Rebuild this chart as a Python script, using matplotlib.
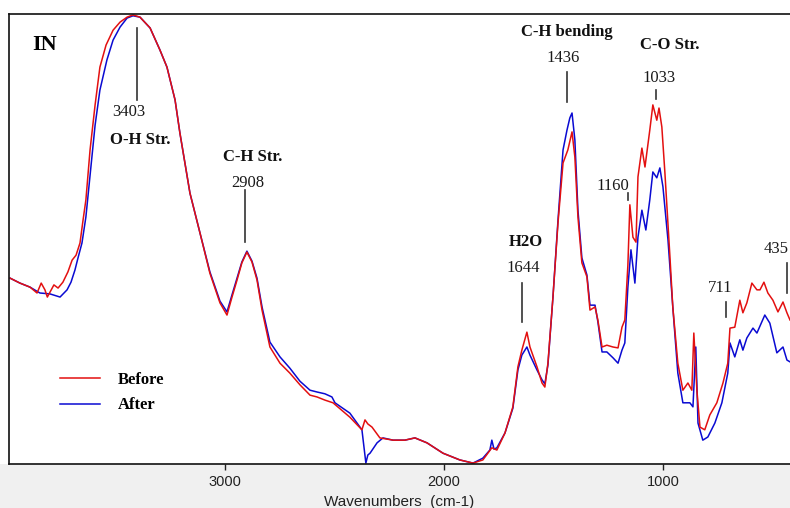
import numpy as np
import matplotlib
matplotlib.use('Agg')
from matplotlib import pyplot as plt
from matplotlib.patches import Rectangle

# FTIR spectra of the IN sample, before and after treatment
# wavenumber (cm-1) and absorbance (a.u.)
before_wn = [3980, 3935, 3889, 3857, 3838, 3821, 3810, 3798, 3780, 3761, 3739, 3716,
             3697, 3679, 3661, 3647, 3634, 3615, 3592, 3570, 3542, 3510, 3478, 3446,
             3419, 3387, 3341, 3296, 3264, 3227, 3205, 3159, 3113, 3068, 3022, 2990,
             2967, 2944, 2922, 2899, 2876, 2853, 2830, 2794, 2748, 2703, 2657, 2611,
             2579, 2543, 2506, 2429, 2374, 2360, 2347, 2328, 2292, 2232, 2178, 2132,
             2077, 2004, 1927, 1867, 1822, 1781, 1758, 1721, 1685, 1662, 1644, 1621,
             1607, 1575, 1552, 1539, 1525, 1502, 1479, 1456, 1434, 1415, 1402, 1388,
             1370, 1347, 1333, 1310, 1297, 1278, 1256, 1228, 1205, 1187, 1174, 1160,
             1151, 1137, 1123, 1114, 1096, 1082, 1060, 1046, 1028, 1018, 1005, 991,
             968, 955, 932, 909, 886, 868, 859, 845, 831, 809, 786, 754, 726, 704,
             694, 672, 649, 635, 617, 594, 571, 557, 539, 521, 498, 475, 452, 434, 420]
before_abs = [0.413, 0.402, 0.393, 0.380, 0.402, 0.387, 0.371, 0.382, 0.398, 0.391, 0.404, 0.427,
              0.453, 0.464, 0.491, 0.542, 0.587, 0.698, 0.798, 0.882, 0.931, 0.964, 0.982, 0.993,
              0.998, 0.993, 0.969, 0.920, 0.882, 0.809, 0.736, 0.602, 0.513, 0.424, 0.358, 0.331,
              0.371, 0.409, 0.447, 0.471, 0.449, 0.409, 0.342, 0.260, 0.224, 0.202, 0.176, 0.153,
              0.149, 0.142, 0.136, 0.104, 0.076, 0.098, 0.089, 0.082, 0.058, 0.053, 0.053, 0.058,
              0.047, 0.024, 0.009, 0.002, 0.009, 0.036, 0.031, 0.069, 0.127, 0.216, 0.253, 0.293,
              0.260, 0.216, 0.180, 0.171, 0.224, 0.371, 0.536, 0.669, 0.698, 0.738, 0.682, 0.549,
              0.447, 0.416, 0.342, 0.349, 0.320, 0.260, 0.264, 0.260, 0.258, 0.304, 0.320, 0.442,
              0.576, 0.504, 0.493, 0.638, 0.702, 0.660, 0.742, 0.798, 0.764, 0.791, 0.749, 0.647,
              0.460, 0.349, 0.224, 0.164, 0.180, 0.164, 0.291, 0.164, 0.082, 0.076, 0.109, 0.136,
              0.180, 0.224, 0.302, 0.304, 0.364, 0.336, 0.358, 0.402, 0.387, 0.387, 0.404, 0.380,
              0.364, 0.338, 0.360, 0.336, 0.320]

after_wn = [3980, 3935, 3889, 3844, 3798, 3752, 3720, 3702, 3684, 3670, 3652, 3634,
            3615, 3592, 3570, 3538, 3510, 3478, 3446, 3419, 3387, 3341, 3296, 3264,
            3227, 3205, 3159, 3113, 3068, 3022, 2990, 2967, 2944, 2922, 2899, 2876,
            2853, 2830, 2794, 2748, 2703, 2657, 2611, 2579, 2543, 2511, 2497, 2429,
            2374, 2356, 2347, 2337, 2305, 2278, 2232, 2178, 2132, 2077, 2004, 1927,
            1867, 1822, 1790, 1781, 1771, 1758, 1721, 1685, 1662, 1644, 1621, 1607,
            1575, 1552, 1539, 1525, 1502, 1479, 1456, 1438, 1425, 1415, 1402, 1388,
            1370, 1347, 1333, 1310, 1297, 1278, 1256, 1228, 1205, 1187, 1174, 1160,
            1146, 1128, 1114, 1096, 1078, 1060, 1046, 1028, 1014, 1000, 977, 955,
            932, 909, 877, 863, 850, 840, 818, 795, 763, 731, 704, 694, 672, 649,
            635, 617, 589, 571, 535, 512, 480, 452, 434, 420]
after_abs = [0.413, 0.402, 0.393, 0.380, 0.378, 0.371, 0.387, 0.404, 0.431, 0.458, 0.491, 0.549,
             0.642, 0.753, 0.831, 0.898, 0.942, 0.971, 0.991, 0.996, 0.993, 0.969, 0.920, 0.882,
             0.809, 0.736, 0.602, 0.513, 0.427, 0.362, 0.338, 0.376, 0.413, 0.449, 0.473, 0.451,
             0.413, 0.349, 0.271, 0.238, 0.213, 0.184, 0.164, 0.160, 0.156, 0.149, 0.136, 0.113,
             0.076, 0.002, 0.020, 0.024, 0.047, 0.058, 0.053, 0.053, 0.058, 0.047, 0.024, 0.009,
             0.002, 0.013, 0.031, 0.053, 0.033, 0.036, 0.069, 0.124, 0.209, 0.242, 0.260, 0.242,
             0.209, 0.187, 0.178, 0.220, 0.371, 0.542, 0.698, 0.742, 0.769, 0.780, 0.720, 0.564,
             0.458, 0.420, 0.353, 0.353, 0.316, 0.249, 0.249, 0.236, 0.224, 0.253, 0.269, 0.393,
             0.476, 0.402, 0.504, 0.564, 0.520, 0.587, 0.649, 0.636, 0.658, 0.616, 0.498, 0.349,
             0.202, 0.136, 0.136, 0.127, 0.260, 0.091, 0.053, 0.060, 0.091, 0.136, 0.202, 0.269,
             0.238, 0.276, 0.253, 0.280, 0.302, 0.291, 0.331, 0.313, 0.247, 0.260, 0.231, 0.227]

# band assignments: position, marker line (bottom, top), number label, group name
band_pos = [3403, 2908, 1644, 1436, 1160, 1033, 711, 435]
band_line_lo = [0.809, 0.493, 0.316, 0.804, 0.587, 0.811, 0.327, 0.380]
band_line_hi = [0.969, 0.609, 0.402, 0.871, 0.602, 0.831, 0.360, 0.447]
band_text_x = [3440, 2894, 1639, 1454, 1230, 1018, 740, 428]
band_text_y = [0.782, 0.624, 0.436, 0.902, 0.618, 0.858, 0.391, 0.478]
group_names = ['O-H Str.', 'C-H Str.', 'H2O', 'C-H bending', 'C-O Str.']
group_x = [3387, 2871, 1625, 1441, 969]
group_y = [0.720, 0.682, 0.493, 0.960, 0.931]

ticks = [3000, 2000, 1000]

W, H = 790, 508
fig = plt.figure(figsize=(W / 100, H / 100), dpi=100, facecolor='white')
ax_l, ax_b, ax_t = 9 / W, (H - 464) / H, (H - 14) / H
ax = fig.add_axes([ax_l, ax_b, 1.0 - ax_l, ax_t - ax_b])

# grey strip under the plot frame
fig.patches.append(Rectangle((0, 0), 1, ax_b, transform=fig.transFigure,
                             facecolor='#f0f0f0', edgecolor='none', zorder=-5))

ax.plot(after_wn, after_abs, color='#0a0ad2', lw=1.1, label='After')
ax.plot(before_wn, before_abs, color='#e31010', lw=1.1, label='Before')

ax.set_xlim(3985, 420)
ax.set_ylim(0, 1)

serif = 'Liberation Serif'
for i in range(len(band_pos)):
    ax.plot([band_pos[i], band_pos[i]], [band_line_lo[i], band_line_hi[i]],
            color='#333333', lw=1.2, clip_on=False)
    ha = 'right' if band_pos[i] == 435 else 'center'
    ax.text(band_text_x[i], band_text_y[i], str(band_pos[i]), family=serif,
            fontsize=12, ha=ha, va='center', color='#1a1a1a', clip_on=False)
for i in range(len(group_names)):
    ax.text(group_x[i], group_y[i], group_names[i], family=serif, fontsize=12,
            fontweight='bold', ha='center', va='center', color='#111111')

ax.text(0.03, 0.93, 'IN', transform=ax.transAxes, family=serif, fontsize=16,
        fontweight='bold', ha='left', va='center')

handles, labels = ax.get_legend_handles_labels()
leg = ax.legend(handles[::-1], labels[::-1], loc='upper left',
                bbox_to_anchor=(0.065, 0.204), frameon=False, borderpad=0,
                borderaxespad=0, handlelength=2.4, handletextpad=1.1,
                labelspacing=0.55, prop={'family': serif, 'weight': 'bold', 'size': 12})

ax.set_xticks(ticks)
ax.set_xticklabels([str(t) for t in ticks], family='Liberation Sans', fontsize=10.5)
ax.tick_params(axis='x', direction='out', length=4, width=1, pad=4, colors='#222222')
ax.set_yticks([])
ax.set_xlabel('Wavenumbers  (cm-1)', family='Liberation Sans', fontsize=11,
              labelpad=4, color='#222222')

for s in ['top', 'left', 'bottom']:
    ax.spines[s].set_linewidth(1.2)
    ax.spines[s].set_color('#111111')
ax.spines['right'].set_visible(False)

plt.savefig('out.png', dpi=100, facecolor=fig.get_facecolor())
